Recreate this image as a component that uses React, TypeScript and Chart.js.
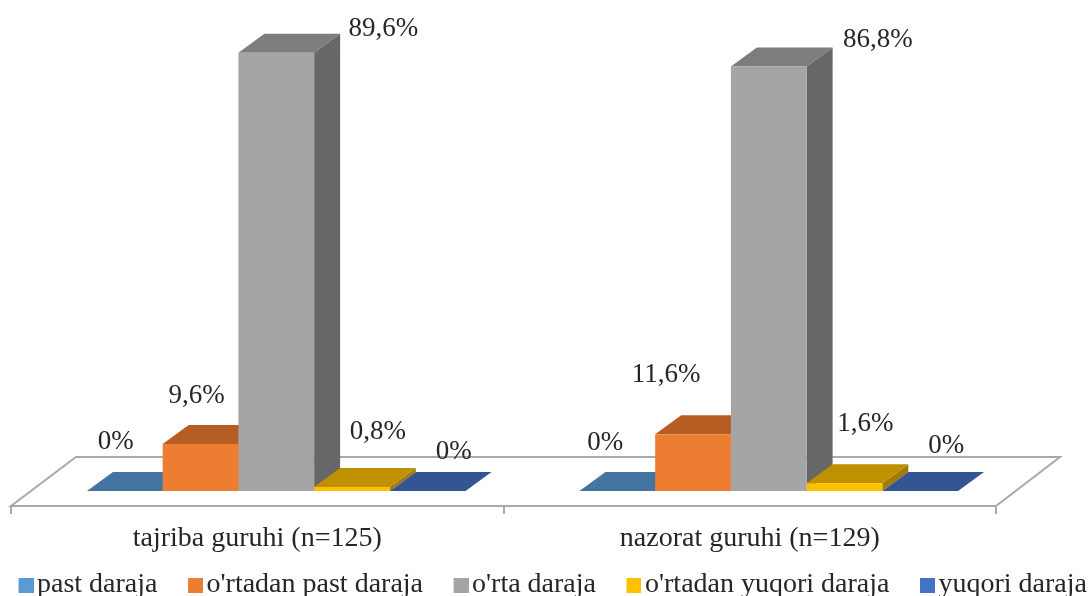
import React, { useEffect, useRef } from "react";
import { Chart, registerables } from "chart.js";

Chart.register(...registerables);

const categories = ["tajriba guruhi (n=125)", "nazorat guruhi (n=129)"];
const seriesNames = ["past daraja", "o'rtadan past daraja", "o'rta daraja", "o'rtadan yuqori daraja", "yuqori daraja"];
const pastDaraja = [0, 0];
const ortadanPast = [9.6, 11.6];
const ortaDaraja = [89.6, 86.8];
const ortadanYuqori = [0.8, 1.6];
const yuqoriDaraja = [0, 0];
const seriesValues = [pastDaraja, ortadanPast, ortaDaraja, ortadanYuqori, yuqoriDaraja];

const frontColors = ["#5B9BD5", "#ED7D31", "#A5A5A5", "#FFC000", "#4472C4"];
const topColors = ["#4475A2", "#B55D23", "#7D7D7D", "#BF9000", "#335593"];
const sideColors = ["#3A6690", "#9A4F1D", "#676767", "#A37B00", "#2A4A80"];

// Hand-placed data label offsets (px from the front top centre of each bar), per series then group.
const labelOffsets = [
  [[-9, -49], [-12, -48]],
  [[-4, -48], [-27, -59]],
  [[107, -24], [109, -27]],
  [[26, -55], [21, -59]],
  [[26, -39], [26, -45]],
];

const FONT = '"Liberation Serif", serif';
const FONT_SIZE = 28;
const LABEL_SIZE = 27;
const TEXT = "#262626";
const SHIFT_X = 19;
const DEPTH_X = 26;
const DEPTH_Y = 19;
const FLOOR_X = 65;
const FLOOR_Y = 49;

function swatch(color: string) {
  const c = document.createElement("canvas");
  c.width = 21;
  c.height = 15;
  const g = c.getContext("2d") as CanvasRenderingContext2D;
  g.fillStyle = color;
  g.fillRect(6, 0, 15, 15);
  return c;
}

const bars3d = {
  id: "bars3d",
  afterLayout(chart: any) {
    // the tick labels overlap the legend's layout box; let them draw past the axis box
    chart.scales.x.bottom = chart.height;
  },
  beforeDatasetsDraw(chart: any) {
    const { ctx, chartArea } = chart;
    ctx.save();
    ctx.beginPath();
    ctx.moveTo(chartArea.left, chartArea.bottom);
    ctx.lineTo(chartArea.left + FLOOR_X, chartArea.bottom - FLOOR_Y);
    ctx.lineTo(chartArea.right + FLOOR_X - 1, chartArea.bottom - FLOOR_Y);
    ctx.lineTo(chartArea.right, chartArea.bottom);
    ctx.closePath();
    ctx.fillStyle = "#FFFFFF";
    ctx.fill();
    ctx.strokeStyle = "#A9A9A9";
    ctx.lineWidth = 2;
    ctx.stroke();
    ctx.translate(SHIFT_X, 0);
    seriesValues.forEach((_, i) => {
      chart.getDatasetMeta(i).data.forEach((bar: any) => {
        const { x, y, base, width } = bar.getProps(["x", "y", "base", "width"], true);
        const l = x - width / 2;
        const r = x + width / 2;
        ctx.fillStyle = sideColors[i];
        ctx.beginPath();
        ctx.moveTo(r, y);
        ctx.lineTo(r + DEPTH_X, y - DEPTH_Y);
        ctx.lineTo(r + DEPTH_X, base - DEPTH_Y);
        ctx.lineTo(r, base);
        ctx.closePath();
        ctx.fill();
        ctx.fillStyle = topColors[i];
        ctx.beginPath();
        ctx.moveTo(l, y);
        ctx.lineTo(l + DEPTH_X, y - DEPTH_Y);
        ctx.lineTo(r + DEPTH_X, y - DEPTH_Y);
        ctx.lineTo(r, y);
        ctx.closePath();
        ctx.fill();
      });
    });
  },
  afterDatasetsDraw(chart: any) {
    const { ctx } = chart;
    ctx.restore();
    ctx.save();
    ctx.font = `${LABEL_SIZE}px ${FONT}`;
    ctx.fillStyle = TEXT;
    ctx.textAlign = "center";
    ctx.textBaseline = "middle";
    seriesValues.forEach((vals, i) => {
      chart.getDatasetMeta(i).data.forEach((bar: any, j: number) => {
        const { x, y } = bar.getProps(["x", "y"], true);
        const [ox, oy] = labelOffsets[i][j];
        ctx.fillText(`${String(vals[j]).replace(".", ",")}%`, x + SHIFT_X + ox, y + oy);
      });
    });
    ctx.restore();
  },
};

const hiddenSide = (position: string, width: number) => ({
  position,
  min: -3.07,
  max: 100,
  ticks: { display: false },
  grid: { display: false },
  border: { display: false },
  afterFit(scale: any) {
    scale.width = width;
  },
});

export default function App() {
  const ref = useRef<HTMLCanvasElement | null>(null);
  useEffect(() => {
    const chart = new Chart(ref.current as HTMLCanvasElement, {
      type: "bar",
      data: {
        labels: categories,
        datasets: seriesNames.map((name, i) => ({
          label: name,
          data: seriesValues[i],
          base: 0,
          backgroundColor: frontColors[i],
          borderWidth: 0,
          categoryPercentage: 0.7687,
          barPercentage: 1,
        })),
      },
      options: {
        responsive: false,
        animation: false,
        layout: { padding: { left: -40, right: -60, top: 2, bottom: -13 } },
        scales: {
          y: hiddenSide("left", 51),
          y2: hiddenSide("right", 154),
          x: {
            grid: {
              offset: true,
              drawOnChartArea: false,
              drawTicks: true,
              tickLength: 8,
              color: "#A9A9A9",
              lineWidth: 2,
            },
            border: { color: "#A9A9A9", width: 2 },
            ticks: { font: { family: FONT, size: FONT_SIZE }, color: TEXT, padding: 8, maxRotation: 0 },
            afterFit(scale: any) {
              scale.height = 30;
            },
          },
        },
        plugins: {
          tooltip: { enabled: false },
          legend: {
            position: "bottom",
            labels: {
              font: { family: FONT, size: FONT_SIZE },
              color: TEXT,
              usePointStyle: true,
              boxWidth: 0.01,
              boxHeight: 15,
              padding: 35,
              generateLabels(c: any) {
                const items = Chart.defaults.plugins.legend.labels.generateLabels(c);
                items.forEach((it: any, i: number) => {
                  it.pointStyle = swatch(frontColors[i]);
                });
                return items;
              },
            },
          },
        },
      },
      plugins: [bars3d],
    } as any);
    return () => chart.destroy();
  }, []);
  return (
    <canvas
      ref={ref}
      width={1090}
      height={596}
      style={{ position: "absolute", left: 0, top: 0, display: "block", filter: "blur(0.4px)" }}
    />
  );
}
